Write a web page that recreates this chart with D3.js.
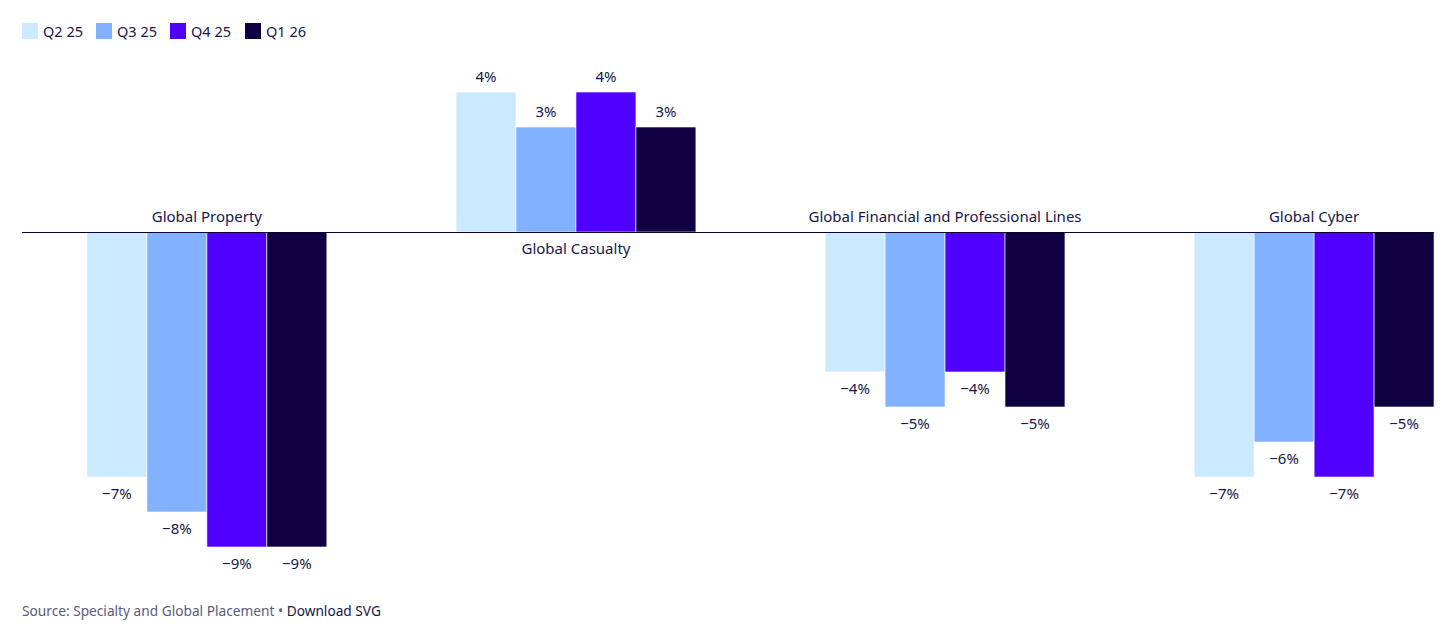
<!DOCTYPE html>
<html><head><meta charset="utf-8">
<script src="https://cdn.jsdelivr.net/npm/d3@7"></script>
<style>
html,body{margin:0;padding:0;background:#fff;}
svg{display:block;font-family:"Noto Sans","Open Sans",sans-serif;}
</style></head>
<body>
<svg id="chart" width="1456" height="627"></svg>
<script>
const categories = ["Global Property","Global Casualty","Global Financial and Professional Lines","Global Cyber"];
const seriesNames = ["Q2 25","Q3 25","Q4 25","Q1 26"];
const q2_25 = [-7, 4, -4, -7];
const q3_25 = [-8, 3, -5, -6];
const q4_25 = [-9, 4, -4, -7];
const q1_26 = [-9, 3, -5, -5];
const colors = ["#cceaff","#82b2ff","#5000ff","#0f0042"];
const sourceText = "Source: Specialty and Global Placement";
const downloadText = "Download SVG";

const seriesValues = [q2_25, q3_25, q4_25, q1_26];
const svg = d3.select("#chart");
const textColor = "#17164a";

const x0 = d3.scaleBand().domain(categories).range([22, 1499]).paddingInner(0.35).paddingOuter(0.176);
const x1 = d3.scaleBand().domain(seriesNames).range([0, x0.bandwidth()]);
const y = d3.scaleLinear().domain([-9, 4]).range([547, 92]);

// bars
const groups = svg.append("g").selectAll("g").data(categories).join("g")
  .attr("transform", c => `translate(${x0(c)},0)`);

groups.selectAll("rect").data((c, ci) => seriesNames.map((s, si) => ({s, si, v: seriesValues[si][ci]})))
  .join("rect")
  .attr("x", d => x1(d.s))
  .attr("width", x1.bandwidth())
  .attr("y", d => y(Math.max(0, d.v)))
  .attr("height", d => Math.abs(y(d.v) - y(0)))
  .attr("fill", d => colors[d.si])
  .attr("stroke", "#fff").attr("stroke-width", 0.6);

groups.selectAll("text.val").data((c, ci) => seriesNames.map((s, si) => ({s, si, v: seriesValues[si][ci]})))
  .join("text").attr("class","val")
  .attr("x", d => x1(d.s) + x1.bandwidth()/2)
  .attr("y", d => d.v >= 0 ? y(d.v) - 10 : y(d.v) + 22)
  .attr("text-anchor","middle")
  .attr("font-size", 15).attr("fill", textColor)
  .text(d => (d.v < 0 ? "\u2212" + Math.abs(d.v) : d.v) + "%");

// zero line
const lastCat = categories[categories.length-1];
svg.append("line")
  .attr("x1", 22).attr("x2", x0(lastCat) + x0.bandwidth())
  .attr("y1", y(0) + 0.5).attr("y2", y(0) + 0.5)
  .attr("stroke", "#0a0033").attr("stroke-width", 1);

// category labels
categories.forEach((c, ci) => {
  const neg = seriesValues.every(arr => arr[ci] < 0);
  svg.append("text")
    .attr("x", x0(c) + x0.bandwidth()/2)
    .attr("y", neg ? y(0) - 10 : y(0) + 22)
    .attr("text-anchor","middle")
    .attr("font-size", 15).attr("fill", textColor)
    .text(c);
});

// legend
const legendX = [22, 96, 170, 245];
const lg = svg.append("g").selectAll("g").data(seriesNames).join("g")
  .attr("transform", (d, i) => `translate(${legendX[i]},23)`);
lg.append("rect").attr("width", 16).attr("height", 16).attr("fill", (d, i) => colors[i]);
lg.append("text").attr("x", 21).attr("y", 13.5).attr("font-size", 14.5).attr("fill", textColor).text(d => d);

// footer
const ft = svg.append("text").attr("x", 22).attr("y", 616).attr("font-size", 13.7);
ft.append("tspan").attr("fill", "#5b5b7e").text(sourceText + " \u2022 ");
ft.append("tspan").attr("fill", "#17164a").text(downloadText);
</script>
</body></html>
